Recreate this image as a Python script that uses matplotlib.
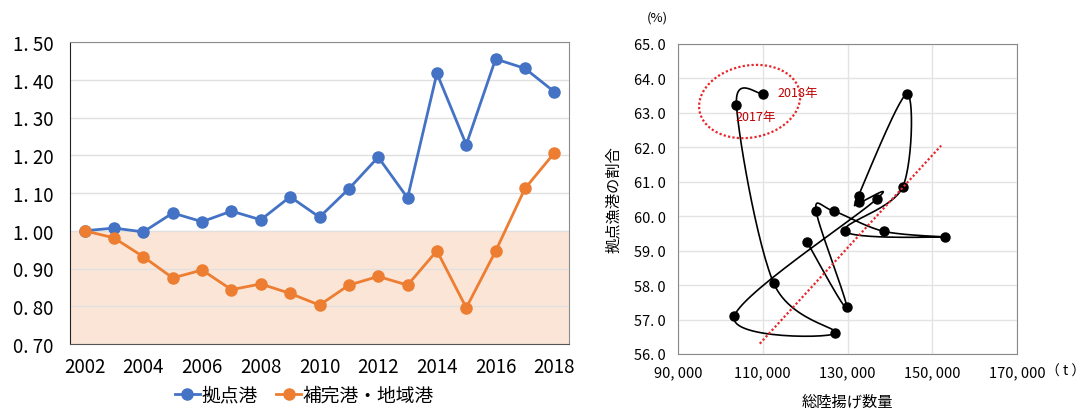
import matplotlib
matplotlib.use("Agg")
import matplotlib.pyplot as plt
import numpy as np
from matplotlib.lines import Line2D

plt.rcParams["font.family"] = ["Noto Sans CJK JP", "DejaVu Sans"]

# left: landing index (2002 = 1.00)
years = list(range(2002, 2019))
hub_ports = [1.000, 1.007, 0.997, 1.047, 1.024, 1.052, 1.029, 1.090, 1.036,
             1.111, 1.195, 1.087, 1.417, 1.228, 1.455, 1.430, 1.368]
other_ports = [1.000, 0.981, 0.931, 0.875, 0.896, 0.844, 0.859, 0.834, 0.803,
               0.856, 0.879, 0.856, 0.947, 0.796, 0.946, 1.112, 1.206]
series_names = ["拠点港", "補完港・地域港"]

# right: total landings (t) vs share of hub fishing ports (%), year order
total_landings = [120500, 129800, 122600, 126700, 138600, 152900, 129500, 143000,
                  144000, 132600, 132800, 136900, 103300, 127100, 112600, 103800, 110000]
hub_share = [59.24, 57.35, 60.15, 60.15, 59.56, 59.40, 59.56, 60.84,
             63.55, 60.60, 60.40, 60.50, 57.10, 56.60, 58.05, 63.23, 63.55]
trend_x = [109300, 152100]
trend_y = [56.30, 62.05]
circle_center = (106900, 63.33)

BLUE = "#4472C4"
ORANGE = "#ED7D31"
RED = "#E8272A"
DARKRED = "#C00000"


def dotted_label(v, decimals):
    return f"{v:.{decimals}f}".replace(".", ". ")


def smooth_curve(xs, ys, xlim, ylim, width_px, height_px, steps=30):
    # Excel-like smoothed line, built in screen space
    u = (np.asarray(xs, float) - xlim[0]) / (xlim[1] - xlim[0]) * width_px
    v = (np.asarray(ys, float) - ylim[0]) / (ylim[1] - ylim[0]) * height_px
    pts = np.column_stack([u, v])
    n = len(pts)
    out = []
    t = np.linspace(0, 1, steps)[:, None]
    for i in range(n - 1):
        p0 = pts[max(i - 1, 0)]
        p1 = pts[i]
        p2 = pts[i + 1]
        p3 = pts[min(i + 2, n - 1)]
        c1 = p1 + (p2 - p0) / 6
        c2 = p2 - (p3 - p1) / 6
        seg = ((1 - t) ** 3) * p1 + 3 * ((1 - t) ** 2) * t * c1 + 3 * (1 - t) * t ** 2 * c2 + t ** 3 * p2
        out.append(seg)
    curve = np.vstack(out)
    cx = curve[:, 0] / width_px * (xlim[1] - xlim[0]) + xlim[0]
    cy = curve[:, 1] / height_px * (ylim[1] - ylim[0]) + ylim[0]
    return cx, cy


fig = plt.figure(figsize=(10.85, 4.10), dpi=100)

# ---------------- left chart ----------------
ax = fig.add_axes([70 / 1085, 1 - 345 / 410, 499 / 1085, 302 / 410])
ax.axhspan(0.70, 1.00, color="#FBE5D6", zorder=0)
ax.plot(years, hub_ports, color=BLUE, lw=2.0, marker="o", ms=8, zorder=3)
ax.plot(years, other_ports, color=ORANGE, lw=2.0, marker="o", ms=8, zorder=3)
ax.set_xlim(2001.5, 2018.5)
ax.set_ylim(0.70, 1.50)
yt = np.round(np.arange(0.70, 1.501, 0.10), 2)
ax.set_yticks(yt)
ax.set_yticklabels([dotted_label(v, 2) for v in yt], fontsize=13.5)
ax.set_xticks(years[::2])
ax.set_xticklabels([str(y) for y in years[::2]], fontsize=13.5)
ax.tick_params(axis="both", length=0)
ax.tick_params(axis="y", pad=12)
ax.tick_params(axis="x", pad=9)
ax.set_axisbelow(True)
ax.grid(axis="y", color="#E0E0E0", lw=1.0)
ax.spines["left"].set_color("#222222")
ax.spines["bottom"].set_color("#555555")
for s in ("top", "right"):
    ax.spines[s].set_color("#8C8C8C")

handles = [
    Line2D([0], [0], color=BLUE, lw=2.0, marker="o", ms=8),
    Line2D([0], [0], color=ORANGE, lw=2.0, marker="o", ms=8),
]
ax.legend(handles, series_names, loc="center", bbox_to_anchor=(0.47, -0.168),
          ncol=2, frameon=False, fontsize=13.5, handlelength=1.3,
          handletextpad=0.1, columnspacing=1.0, borderpad=0.1)

# ---------------- right chart ----------------
xlim = (90000, 170000)
ylim = (56.0, 65.0)
ax2 = fig.add_axes([678 / 1085, 1 - 355 / 410, 339 / 1085, 310 / 410])
cx, cy = smooth_curve(total_landings, hub_share, xlim, ylim, 339, 310)
ax2.plot(cx, cy, color="black", lw=1.2, zorder=3)
ax2.plot(total_landings, hub_share, "o", color="black", ms=6.5, zorder=4)
ax2.plot(trend_x, trend_y, color=RED, lw=1.6, linestyle=(0, (1, 1)), zorder=5)

# dotted ellipse around 2017/2018 (drawn in screen space, tilted)
a_px, b_px, ang = 51, 36, np.deg2rad(11)
t = np.linspace(0, 2 * np.pi, 200)
cu = (circle_center[0] - xlim[0]) / (xlim[1] - xlim[0]) * 339
cv = (circle_center[1] - ylim[0]) / (ylim[1] - ylim[0]) * 310
eu = cu + a_px * np.cos(t) * np.cos(ang) - b_px * np.sin(t) * np.sin(ang)
ev = cv + a_px * np.cos(t) * np.sin(ang) + b_px * np.sin(t) * np.cos(ang)
ax2.plot(eu / 339 * (xlim[1] - xlim[0]) + xlim[0], ev / 310 * (ylim[1] - ylim[0]) + ylim[0],
         color=RED, lw=1.6, linestyle=(0, (1, 1)), zorder=5)
ax2.text(total_landings[-1] + 3500, hub_share[-1] + 0.05, "2018年", color=DARKRED,
         fontsize=9, va="center", ha="left")
ax2.text(total_landings[-2] - 200, hub_share[-2] - 0.15, "2017年", color=DARKRED,
         fontsize=9, va="top", ha="left")

ax2.set_xlim(*xlim)
ax2.set_ylim(*ylim)
xt = np.arange(90000, 170001, 20000)
ax2.set_xticks(xt)
ax2.set_xticklabels([f"{v:,}".replace(",", ", ") for v in xt], fontsize=10.5)
yt2 = np.arange(56.0, 65.01, 1.0)
ax2.set_yticks(yt2)
ax2.set_yticklabels([dotted_label(v, 1) for v in yt2], fontsize=10.5)
ax2.tick_params(axis="both", length=0)
ax2.tick_params(axis="y", pad=9)
ax2.tick_params(axis="x", pad=8)
ax2.set_axisbelow(True)
ax2.grid(True, color="#E3E3E3", lw=1.0)
for s in ax2.spines.values():
    s.set_color("#8A8A8A")
ax2.set_ylabel("拠点漁港の割合", fontsize=11, labelpad=8)
ax2.set_xlabel("総陸揚げ数量", fontsize=11, labelpad=10)
fig.text(657 / 1085, 1 - 18 / 410, "(%)", fontsize=9.5, ha="center", va="center")
fig.text(1066 / 1085, 1 - 372 / 410, "（ t ）", fontsize=10, ha="center", va="center")

fig.savefig("out.png", dpi=100)
